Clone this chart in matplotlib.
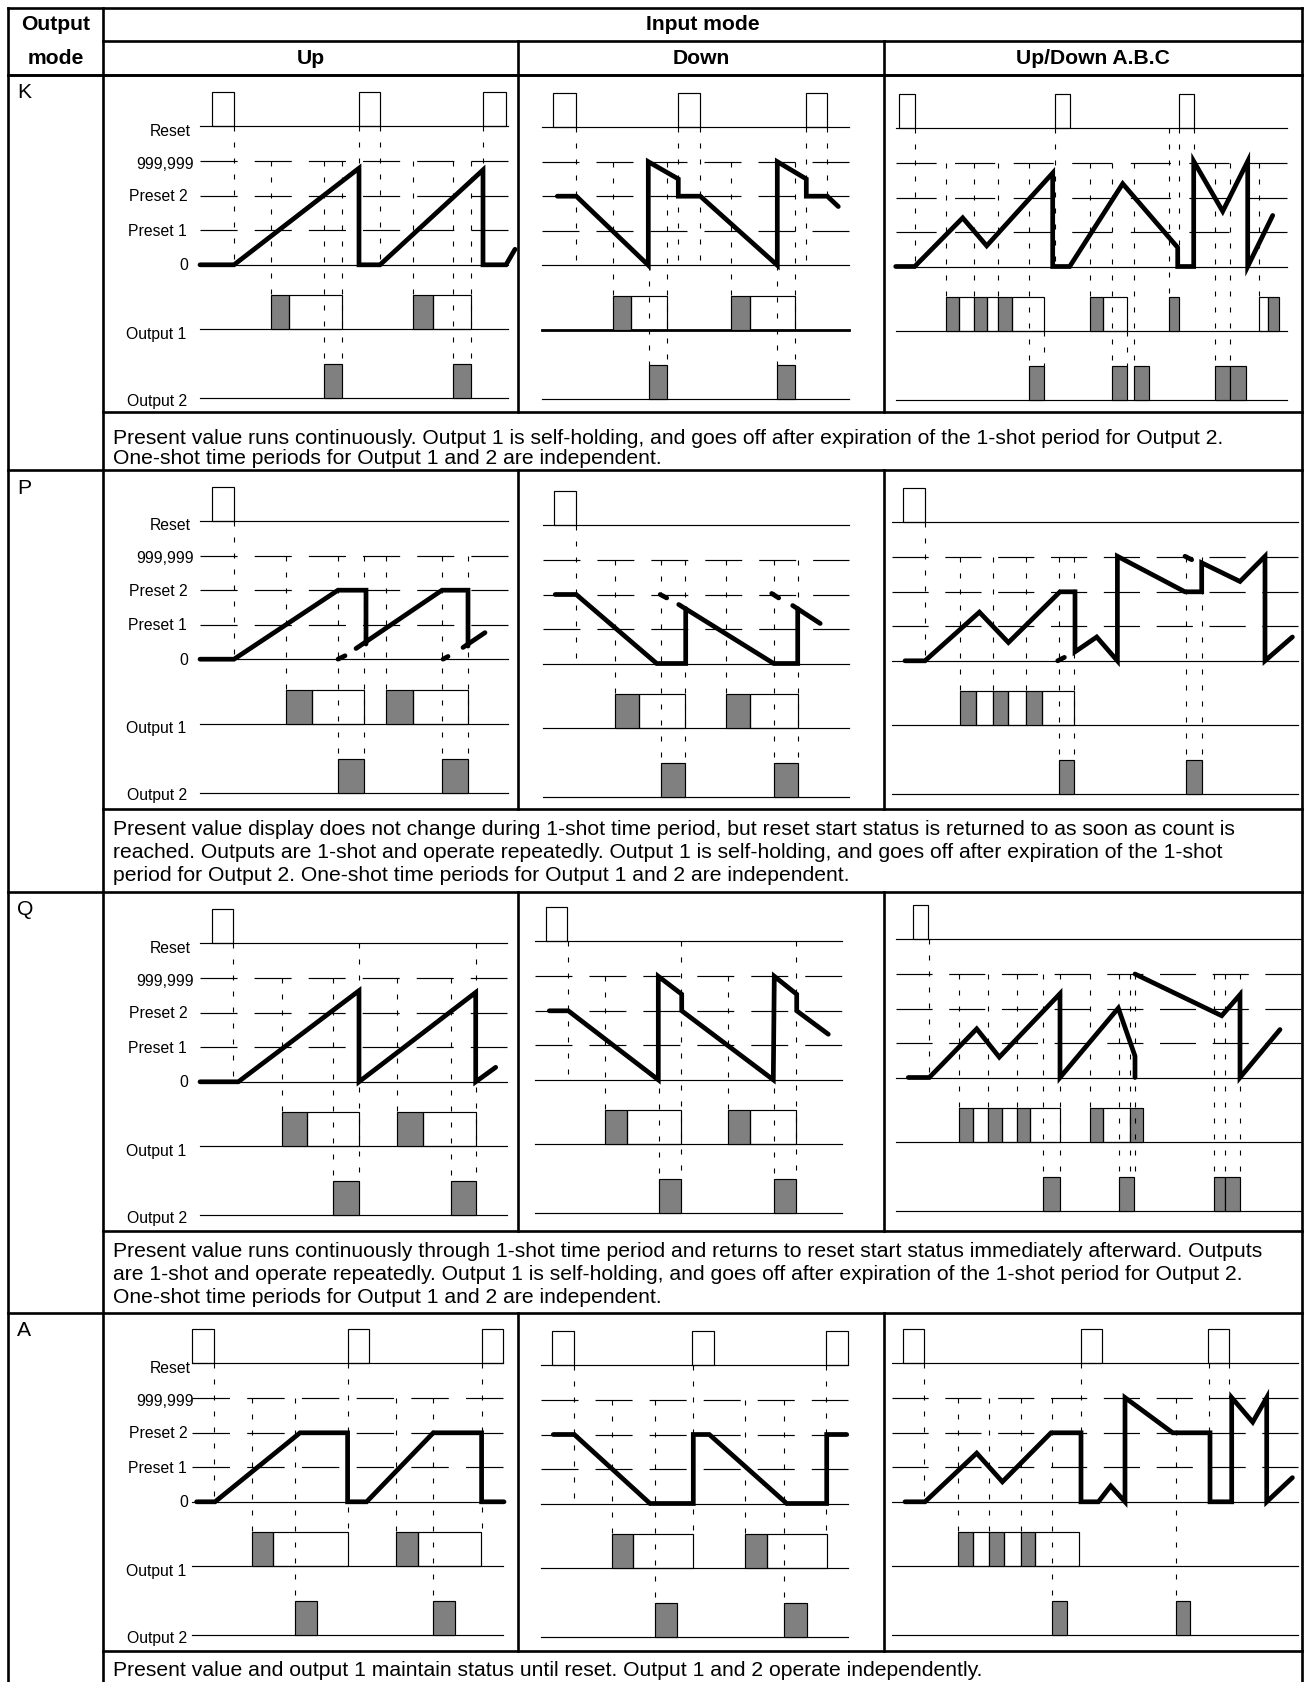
import matplotlib
matplotlib.use("Agg")
import matplotlib.pyplot as plt
from matplotlib.patches import Rectangle
from matplotlib.transforms import blended_transform_factory

plt.rcParams['font.family'] = ['Liberation Sans', 'DejaVu Sans']
plt.rcParams['lines.scale_dashes'] = False

# ============================ DATA ============================
OUTPUT_MODES = ["K", "P", "Q", "A"]
INPUT_MODES = ["Up", "Down", "Up/Down A.B.C"]
LANE_LABELS = ["Reset", "999,999", "Preset 2", "Preset 1", "0", "Output 1", "Output 2"]
DESCRIPTIONS = [
    ["Present value runs continuously. Output 1 is self-holding, and goes off after expiration of the 1-shot period for Output 2.",
     "One-shot time periods for Output 1 and 2 are independent."],
    ["Present value display does not change during 1-shot time period, but reset start status is returned to as soon as count is",
     "reached. Outputs are 1-shot and operate repeatedly. Output 1 is self-holding, and goes off after expiration of the 1-shot",
     "period for Output 2. One-shot time periods for Output 1 and 2 are independent."],
    ["Present value runs continuously through 1-shot time period and returns to reset start status immediately afterward. Outputs",
     "are 1-shot and operate repeatedly. Output 1 is self-holding, and goes off after expiration of the 1-shot period for Output 2.",
     "One-shot time periods for Output 1 and 2 are independent."],
    ["Present value and output 1 maintain status until reset. Output 1 and 2 operate independently."],
]

# time units along each diagram; level 0..3 = 0, Preset 1, Preset 2, 999,999
# out1 entries: (start, end, filled)
K_UP_RESET = [(12, 34), (159, 180), (283, 306)]
K_UP_VALUE = [[(0, 0), (34, 0), (159, 2.8), (159, 0), (180, 0), (283, 2.75), (283, 0), (306, 0), (315, 0.45)]]
K_UP_GHOST = []
K_UP_OUT1 = [(71, 89, 1), (89, 142, 0), (213, 233, 1), (233, 271, 0)]
K_UP_OUT2 = [(124, 142), (253, 271)]
K_UP_VLINES = [(34, 'R', 'L0'), (71, 'L3', 'O1'), (124, 'L3', 'O2'), (142, 'L3', 'O2'), (159, 'R', 'L0'),
               (180, 'R', 'L0'), (213, 'L3', 'O1'), (253, 'L3', 'O2'), (271, 'L3', 'O2'), (283, 'R', 'L0')]

K_DOWN_RESET = [(11, 34), (136, 158), (264, 285)]
K_DOWN_VALUE = [[(15, 2), (34, 2), (106, 0), (106, 3), (136, 2.5), (136, 2), (158, 2), (235, 0), (235, 3),
                 (264, 2.5), (264, 2), (285, 2), (296, 1.7)]]
K_DOWN_GHOST = []
K_DOWN_OUT1 = [(71, 89, 1), (89, 125, 0), (189, 208, 1), (208, 253, 0)]
K_DOWN_OUT2 = [(107, 125), (235, 253)]
K_DOWN_VLINES = [(34, 'R', 'L0'), (71, 'L3', 'O1'), (107, 'L0', 'O2'), (125, 'L3', 'O2'), (136, 'R', 'L0'),
                 (158, 'R', 'L0'), (189, 'L3', 'O1'), (235, 'L0', 'O2'), (253, 'L3', 'O2'), (264, 'R', 'L0'),
                 (285, 'R', 'L2')]

K_UD_RESET = [(3, 19), (159, 174), (283, 298)]
K_UD_VALUE = [[(0, 0), (19, 0), (67, 1.41), (91, 0.6), (157, 2.71), (157, 0), (174, 0), (227, 2.4), (282, 0.55),
               (282, 0), (298, 0), (298, 3.05), (327, 1.6), (352, 3.05), (352, 0), (377, 1.48)]]
K_UD_GHOST = []
K_UD_OUT1 = [(50, 63, 1), (63, 78, 0), (78, 91, 1), (91, 102, 0), (102, 116, 1), (116, 148, 0),
             (194, 207, 1), (207, 231, 0), (273, 283, 1), (363, 372, 0), (372, 383, 1)]
K_UD_OUT2 = [(133, 148), (216, 231), (238, 253), (319, 334), (334, 350)]
K_UD_VLINES = [(19, 'R', 'L0'), (50, 'L3', 'O1'), (78, 'L3', 'O1'), (102, 'L3', 'O1'), (133, 'L3', 'O2'),
               (148, 'O1b', 'O2'), (159, 'R', 'L0'), (194, 'L3', 'O1'), (216, 'L3', 'O2'), (231, 'O1b', 'O2'),
               (238, 'L3', 'O2'), (273, 'R', 'O1'), (283, 'R', 'L0'), (298, 'R', 'L3'), (319, 'L3', 'O2'),
               (334, 'L3', 'O2'), (363, 'L3', 'O1')]

P_UP_RESET = [(12, 34)]
P_UP_VALUE = [[(0, 0), (34, 0), (138, 2), (166, 2), (166, 0.44)],
              [(156, 0.31), (242, 2), (268, 2), (268, 0.38)],
              [(263, 0.34), (285, 0.77)]]
P_UP_GHOST = [[(138, 0), (145, 0.1)], [(243, 0), (248, 0.08)]]
P_UP_OUT1 = [(86, 112, 1), (112, 164, 0), (186, 213, 1), (213, 268, 0)]
P_UP_OUT2 = [(138, 164), (242, 268)]
P_UP_VLINES = [(34, 'R', 'L0'), (86, 'L3', 'O1'), (138, 'L3', 'O2'), (164, 'L3', 'O2'), (186, 'L3', 'O1'),
               (242, 'L3', 'O2'), (268, 'L3', 'O2')]

P_DOWN_RESET = [(11.5, 33.5)]
P_DOWN_VALUE = [[(12.5, 2), (33.5, 2), (114, 0), (143, 0), (143, 1.59)],
                [(136, 1.71), (231, 0), (255, 0), (255, 1.59)],
                [(250, 1.68), (277.5, 1.16)]]
P_DOWN_GHOST = [[(117.5, 2), (124, 1.9)], [(229, 2.03), (236, 1.9)]]
P_DOWN_OUT1 = [(72.5, 96, 1), (96, 142, 0), (183.5, 207, 1), (207, 255, 0)]
P_DOWN_OUT2 = [(118.5, 142), (231.5, 255)]
P_DOWN_VLINES = [(33.5, 'R', 'L0'), (72.5, 'L3', 'O1'), (118.5, 'L3', 'O2'), (142, 'L3', 'O2'),
                 (183.5, 'L3', 'O1'), (231.5, 'L3', 'O2'), (255, 'L3', 'O2')]

P_UD_RESET = [(11.7, 33.3)]
P_UD_VALUE = [[(13.3, 0), (33.3, 0), (87.7, 1.41), (116.7, 0.53), (168.3, 2), (183.3, 2), (183.3, 0.26),
               (205, 0.69), (225.7, 0), (225.7, 3.03), (293.3, 2), (310, 2), (310, 2.84), (348.3, 2.3),
               (373.3, 3.03), (373.3, 0), (400.7, 0.69)]]
P_UD_GHOST = [[(166, 0), (172.7, 0.1)], [(293.3, 3.03), (300, 2.93)]]
P_UD_OUT1 = [(68.3, 84.3, 1), (84.3, 101.7, 0), (101.7, 116.7, 1), (116.7, 134.3, 0), (134.3, 150, 1),
             (150, 182.7, 0)]
P_UD_OUT2 = [(167.3, 182.7), (294.3, 310)]
P_UD_VLINES = [(33.3, 'R', 'L0'), (68.3, 'L3', 'O1'), (101.7, 'L3', 'O1'), (134.3, 'L3', 'O1'),
               (167.3, 'L3', 'O2'), (182.7, 'L3', 'O2'), (294.3, 'L3', 'O2'), (310, 'L3', 'O2')]

Q_UP_RESET = [(11.7, 33.3)]
Q_UP_VALUE = [[(0, 0), (38.3, 0), (159, 2.64), (159, 0), (275.7, 2.59), (275.7, 0), (295.7, 0.42)]]
Q_UP_GHOST = []
Q_UP_OUT1 = [(82.3, 107.3, 1), (107.3, 159, 0), (197.3, 223.3, 1), (223.3, 276, 0)]
Q_UP_OUT2 = [(133.3, 159), (250.7, 276)]
Q_UP_VLINES = [(33.3, 'R', 'L0'), (82.3, 'L3', 'O1'), (133.3, 'L3', 'O2'), (159, 'R', 'O2'),
               (197.3, 'L3', 'O1'), (250.7, 'L3', 'O2'), (276, 'R', 'O2')]

Q_DOWN_RESET = [(10.7, 32.3)]
Q_DOWN_VALUE = [[(14.3, 2), (33.3, 2), (123.3, 0), (123.3, 3), (146.7, 2.48), (146.7, 2), (238.3, 0),
                 (239.3, 3), (261.7, 2.48), (261.7, 2), (293.3, 1.32)]]
Q_DOWN_GHOST = []
Q_DOWN_OUT1 = [(70, 91.7, 1), (91.7, 146, 0), (192.7, 215.3, 1), (215.3, 260.7, 0)]
Q_DOWN_OUT2 = [(124.3, 146), (239, 260.7)]
Q_DOWN_VLINES = [(32.7, 'R', 'L0'), (70, 'L3', 'O1'), (124.3, 'L3', 'O2'), (146, 'R', 'O2'),
                 (192.7, 'L3', 'O1'), (239, 'L3', 'O2'), (260.7, 'R', 'O2')]

Q_UD_RESET = [(17.6, 32.6)]
Q_UD_VALUE = [[(12.6, 0), (33.6, 0), (81, 1.41), (103.6, 0.59), (164.3, 2.43), (164.3, 0), (222.6, 2.01),
               (239.3, 0.62), (239.3, 0)],
              [(239.3, 3.0), (326, 1.79), (344.3, 2.4), (344.3, 0), (384.3, 1.39)]]
Q_UD_GHOST = []
Q_UD_OUT1 = [(63.3, 77, 1), (77, 92, 0), (92, 106, 1), (106, 121, 0), (121, 134.3, 1), (134.3, 164.3, 0),
             (194.3, 207.6, 1), (207.6, 234.3, 0), (234.3, 247.6, 1)]
Q_UD_OUT2 = [(147.6, 164.3), (223.6, 238.6), (318.3, 329.3), (329.3, 344.3)]
Q_UD_VLINES = [(33.6, 'R', 'L0'), (63.3, 'L3', 'O1'), (92, 'L3', 'O1'), (121, 'L3', 'O1'),
               (147.6, 'L3', 'O2'), (164.3, 'L3', 'O2'), (194.3, 'L3', 'O1'), (223.6, 'L3', 'O2'),
               (234.3, 'L3', 'O2'), (239.3, 'L3', 'O2'), (318.3, 'L3', 'O2'), (329.3, 'L3', 'O2'),
               (344.3, 'L3', 'O2')]

A_UP_RESET = [(0, 21.7), (155.3, 177), (289.3, 311)]
A_UP_VALUE = [[(4.3, 0), (22.7, 0), (107.7, 2), (155.3, 2), (155.3, 0), (174.3, 0), (241, 2), (289.3, 2),
               (289.3, 0), (311.7, 0)]]
A_UP_GHOST = []
A_UP_OUT1 = [(59.3, 81, 1), (81, 155.3, 0), (203.7, 226, 1), (226, 288.7, 0)]
A_UP_OUT2 = [(102.7, 124.3), (241, 262.7)]
A_UP_VLINES = [(21.7, 'R', 'L0'), (59.3, 'L3', 'O1'), (102.7, 'L3', 'O2'), (155.3, 'R', 'O1'),
               (203.7, 'L3', 'O1'), (241, 'L3', 'O2'), (289.3, 'R', 'O1')]

A_DOWN_RESET = [(10.7, 33.3), (151.3, 173.3), (284.7, 306.7)]
A_DOWN_VALUE = [[(12.3, 2), (33.3, 2), (109, 0), (152.3, 0), (152.3, 2), (168.3, 2), (245.7, 0), (285.7, 0),
                 (285.7, 2), (305.7, 2)]]
A_DOWN_GHOST = []
A_DOWN_OUT1 = [(70.7, 92.3, 1), (92.3, 151.7, 0), (204, 226.3, 1), (226.3, 285.7, 0)]
A_DOWN_OUT2 = [(114, 136.3), (243.3, 265.7)]
A_DOWN_VLINES = [(33.3, 'R', 'L0'), (70.7, 'L3', 'O1'), (114, 'L3', 'O2'), (151.7, 'R', 'O1'),
                 (204, 'L3', 'O1'), (243.3, 'L3', 'O2'), (285, 'R', 'O1')]

A_UD_RESET = [(11.7, 32.7), (189.3, 210.7), (316.7, 337.7)]
A_UD_VALUE = [[(13.3, 0), (33.3, 0), (85, 1.41), (110.7, 0.58), (159.3, 2), (189.3, 2), (189.3, 0),
               (206.7, 0), (219, 0.46), (233.3, 0), (233.3, 3.02), (281, 2), (318.3, 2), (318.3, 0), (340, 0),
               (340, 3.02), (361, 2.31), (375, 3.02), (375, 0), (400.7, 0.7)]]
A_UD_GHOST = []
A_UD_OUT1 = [(66.7, 81, 1), (81, 97.7, 0), (97.7, 112.3, 1), (112.3, 129, 0), (129, 143.3, 1),
             (143.3, 187.3, 0)]
A_UD_OUT2 = [(160.7, 175), (284.3, 298.3)]
A_UD_VLINES = [(32.7, 'R', 'L0'), (66.7, 'L3', 'O1'), (97.7, 'L3', 'O1'), (129, 'L3', 'O1'),
               (160.7, 'L3', 'O2'), (189.3, 'R', 'L0'), (284.3, 'L3', 'O2'), (317.3, 'R', 'L2'),
               (337.7, 'R', 'L3')]

PANELS = {
    ("K", 0): (K_UP_RESET, K_UP_VALUE, K_UP_GHOST, K_UP_OUT1, K_UP_OUT2, K_UP_VLINES),
    ("K", 1): (K_DOWN_RESET, K_DOWN_VALUE, K_DOWN_GHOST, K_DOWN_OUT1, K_DOWN_OUT2, K_DOWN_VLINES),
    ("K", 2): (K_UD_RESET, K_UD_VALUE, K_UD_GHOST, K_UD_OUT1, K_UD_OUT2, K_UD_VLINES),
    ("P", 0): (P_UP_RESET, P_UP_VALUE, P_UP_GHOST, P_UP_OUT1, P_UP_OUT2, P_UP_VLINES),
    ("P", 1): (P_DOWN_RESET, P_DOWN_VALUE, P_DOWN_GHOST, P_DOWN_OUT1, P_DOWN_OUT2, P_DOWN_VLINES),
    ("P", 2): (P_UD_RESET, P_UD_VALUE, P_UD_GHOST, P_UD_OUT1, P_UD_OUT2, P_UD_VLINES),
    ("Q", 0): (Q_UP_RESET, Q_UP_VALUE, Q_UP_GHOST, Q_UP_OUT1, Q_UP_OUT2, Q_UP_VLINES),
    ("Q", 1): (Q_DOWN_RESET, Q_DOWN_VALUE, Q_DOWN_GHOST, Q_DOWN_OUT1, Q_DOWN_OUT2, Q_DOWN_VLINES),
    ("Q", 2): (Q_UD_RESET, Q_UD_VALUE, Q_UD_GHOST, Q_UD_OUT1, Q_UD_OUT2, Q_UD_VLINES),
    ("A", 0): (A_UP_RESET, A_UP_VALUE, A_UP_GHOST, A_UP_OUT1, A_UP_OUT2, A_UP_VLINES),
    ("A", 1): (A_DOWN_RESET, A_DOWN_VALUE, A_DOWN_GHOST, A_DOWN_OUT1, A_DOWN_OUT2, A_DOWN_VLINES),
    ("A", 2): (A_UD_RESET, A_UD_VALUE, A_UD_GHOST, A_UD_OUT1, A_UD_OUT2, A_UD_VLINES),
}

# ============================ LAYOUT ============================
W, H = 1305, 1683
PX = 0.72                    # points per pixel (dpi 100)
L0PX, LPX = 138.5, 34.5      # px from reset baseline to level 0, px per level
RESET_Y = L0PX / LPX
O1_Y = (L0PX - 203.0) / LPX
O2_Y = (L0PX - 272.0) / LPX
PULSE = 34.0 / LPX
LANE = {'R': RESET_Y, 'L3': 3, 'L2': 2, 'L1': 1, 'L0': 0,
        'O1': O1_Y + PULSE, 'O1b': O1_Y, 'O2': O2_Y + PULSE}

# (x_left, x_right, y_reset_baseline, number of long dashes)
PANEL_BOX = {
    ("K", 0): (200, 508, 127.3, 6), ("K", 1): (542.3, 849.3, 127.7, 6), ("K", 2): (895.7, 1287.3, 129, 7),
    ("P", 0): (200, 508, 521.7, 6), ("P", 1): (542.7, 849.3, 526, 6), ("P", 2): (891.7, 1297.7, 523.3, 8),
    ("Q", 0): (200, 507.3, 944.3, 6), ("Q", 1): (535, 841.7, 942.3, 6), ("Q", 2): (895.7, 1300.7, 940, 8),
    ("A", 0): (192.3, 503.3, 1364.3, 6), ("A", 1): (541, 848.3, 1366, 6), ("A", 2): (891.7, 1297.7, 1364.3, 8),
}
LEFT, MID, RIGHT, TOP = 8, 103, 1302, 9
COL_X = [103, 518, 884, 1302]
ROW_TOP = [76, 471, 893, 1314]
DIAG_BOT = [413, 810, 1232, 1652]
TEXT_FIRST = [25, 20, 20, 18.5]   # first description line offset below diagram
TEXT_STEP = [21, 23, 23, 23]

FS = 15.2
LAB_FS = 11.3
TL = 1.9
THIN = 0.85
VAL_LW = 3.4
GRAY = '#808080'

fig = plt.figure(figsize=(W / 100, H / 100), dpi=100)
base = fig.add_axes([0, 0, 1, 1])
base.set_xlim(0, W)
base.set_ylim(H, 0)
base.axis('off')


def hl(y, x0, x1):
    base.plot([x0, x1], [y, y], color='k', lw=TL, solid_capstyle='projecting')


def vl(x, y0, y1):
    base.plot([x, x], [y0, y1], color='k', lw=TL, solid_capstyle='projecting')


hl(TOP, LEFT, RIGHT)
hl(42, MID, RIGHT)
hl(76, LEFT, RIGHT)
vl(COL_X[1], 42, 76)
vl(COL_X[2], 42, 76)
for top, bot in zip(ROW_TOP, DIAG_BOT):
    hl(top, LEFT, RIGHT)
    hl(bot, MID, RIGHT)
    for x in COL_X[1:3]:
        vl(x, top, bot)
vl(LEFT, TOP, H + 5)
vl(MID, TOP, H + 5)
vl(RIGHT, TOP, H + 5)

# headers
base.text((LEFT + MID) / 2, 25, "Output", ha='center', va='center', fontsize=FS, fontweight='bold')
base.text((LEFT + MID) / 2, 59, "mode", ha='center', va='center', fontsize=FS, fontweight='bold')
base.text((MID + RIGHT) / 2, 25, "Input mode", ha='center', va='center', fontsize=FS, fontweight='bold')
for i, name in enumerate(INPUT_MODES):
    base.text((COL_X[i] + COL_X[i + 1]) / 2, 59, name, ha='center', va='center', fontsize=FS,
              fontweight='bold')

# row labels and descriptions
for r, mode in enumerate(OUTPUT_MODES):
    base.text(17, ROW_TOP[r] + 17, mode, ha='left', va='center', fontsize=FS)
    for j, line in enumerate(DESCRIPTIONS[r]):
        base.text(113, DIAG_BOT[r] + TEXT_FIRST[r] + TEXT_STEP[r] * j, line, ha='left', va='center',
                  fontsize=FS)

LABEL_POS = [(191, RESET_Y - 4 / LPX), (193.5, 3 - 2 / LPX), (188, 2), (187, 1), (188, 0),
             (186, O1_Y - 4 / LPX), (187, O2_Y - 2 / LPX)]


def draw_panel(key):
    reset, value, ghost, out1, out2, vlines = PANELS[key]
    xl, xr, yr, ndash = PANEL_BOX[key]
    wp = xr - xl
    ax = fig.add_axes([0, 0, 1, 1])
    ax.set_xlim(-xl, W - xl)
    ax.set_ylim((yr + L0PX - H) / LPX, (yr + L0PX) / LPX)
    ax.axis('off')
    ax.patch.set_visible(False)

    # solid lanes
    for y in (RESET_Y, 0, O1_Y, O2_Y):
        lw = 2.0 if (key == ("K", 1) and y == O1_Y) else THIN
        ax.plot([0, wp], [y, y], color='k', lw=lw, zorder=1)
    # long-dash level lines
    dl = wp / (ndash + 0.46 * (ndash - 1))
    for lev in (1, 2, 3):
        ax.plot([0, wp], [lev, lev], color='k', lw=THIN, dashes=(dl * PX, 0.46 * dl * PX),
                solid_capstyle='butt', dash_capstyle='butt', zorder=1)
    # vertical dashed guides
    for t, a, b in vlines:
        ax.plot([t, t], [LANE[a], LANE[b]], color='k', lw=0.8, dashes=(5 * PX, 11 * PX),
                dash_capstyle='butt', zorder=2.5)
    # reset pulses
    for t0, t1 in reset:
        ax.add_patch(Rectangle((t0, RESET_Y), t1 - t0, PULSE, fill=False, ec='k', lw=THIN, zorder=2))
    # outputs
    for t0, t1, filled in out1:
        ax.add_patch(Rectangle((t0, O1_Y), t1 - t0, PULSE, fc=GRAY if filled else 'none', ec='k',
                               lw=THIN, zorder=2))
    for t0, t1 in out2:
        ax.add_patch(Rectangle((t0, O2_Y), t1 - t0, PULSE, fc=GRAY, ec='k', lw=THIN, zorder=2))
    # present value
    for path in value:
        ts = [p[0] for p in path]
        ls = [p[1] for p in path]
        ax.plot(ts, ls, color='k', lw=VAL_LW, solid_capstyle='round', solid_joinstyle='miter', zorder=3)
    for path in ghost:
        ax.plot([p[0] for p in path], [p[1] for p in path], color='k', lw=VAL_LW,
                solid_capstyle='round', zorder=3)
    # lane labels (Up column only)
    if key[1] == 0:
        tr = blended_transform_factory(base.transData, ax.transData)
        for (x, y), lab in zip(LABEL_POS, LANE_LABELS):
            ax.text(x, y, lab, transform=tr, ha='right', va='center', fontsize=LAB_FS)


for key in PANELS:
    draw_panel(key)

fig.savefig("out.png", dpi=100)
